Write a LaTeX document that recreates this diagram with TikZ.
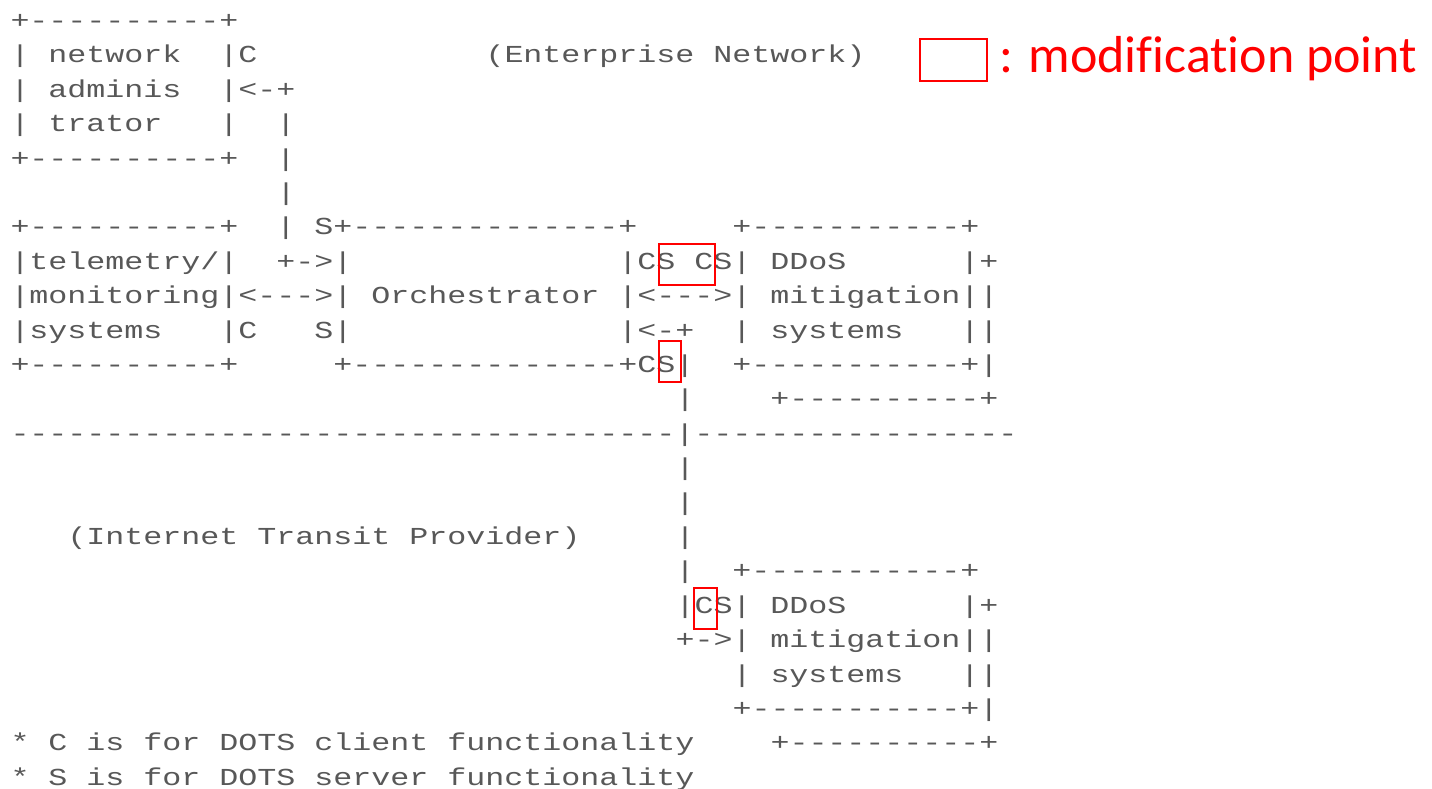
\documentclass[tikz,border=0pt]{standalone}
\usepackage{fontspec}
\usepackage{graphicx}
\newfontfamily\asciifont{Liberation Mono}[Ligatures=TeXOff]
\newfontfamily\legendfont{Carlito}[Ligatures=CommonOff]
\definecolor{txtgray}{RGB}{88,88,88}
\definecolor{modred}{RGB}{255,0,0}
\newcommand\sqz[1]{\scalebox{1}[0.77]{#1}}
\tikzset{
  txt/.style={anchor=base west, inner sep=0pt, outer sep=0pt, text=txtgray,
    font=\asciifont\fontsize{31.66}{34.5}\selectfont},
  redbox/.style={draw=modred, line width=1.8pt, inner sep=0pt, outer sep=0pt, rectangle},
  legendtxt/.style={anchor=base west, inner sep=0pt, outer sep=0pt, text=modred,
    font=\legendfont\fontsize{52}{60}\selectfont}
}
% name, column, row, text
\newcommand\asciirow[4]{\node[txt] (#1) at ({10.5+19*#2},{760.5-34.4*#3}) {\sqz{#4}};}
\begin{document}
\begin{tikzpicture}[x=1pt,y=1pt]
\fill[white] (0,0) rectangle (1432,789);
\useasboundingbox (0,0) rectangle (1432,789);

\asciirow{r0}{0}{0}{+----------+}
\asciirow{r1}{0}{1}{|~network~~|C}
\asciirow{ent}{25}{1}{(Enterprise~Network)}
\asciirow{r2}{0}{2}{|~adminis~~|<-+}
\asciirow{r3}{0}{3}{|~trator~~~|~~|}
\asciirow{r4}{0}{4}{+----------+~~|}
\asciirow{r5}{14}{5}{|}
\asciirow{r6}{0}{6}{+----------+~~|~S+--------------+~~~~~+-----------+}
\asciirow{r7}{0}{7}{|telemetry/|~~+->|~~~~~~~~~~~~~~|CS~CS|~DDoS~~~~~~|+}
\asciirow{r8}{0}{8}{|monitoring|<--->|~Orchestrator~|<--->|~mitigation||}
\asciirow{r9}{0}{9}{|systems~~~|C~~~S|~~~~~~~~~~~~~~|<-+~~|~systems~~~||}
\asciirow{r10}{0}{10}{+----------+~~~~~+--------------+CS|~~+-----------+|}
\asciirow{r11}{35}{11}{|~~~~+----------+}
\asciirow{r12}{0}{12}{-----------------------------------|-----------------}
\asciirow{r13}{35}{13}{|}
\asciirow{r14}{35}{14}{|}
\asciirow{itp}{3}{15}{(Internet~Transit~Provider)}
\asciirow{r15}{35}{15}{|}
\asciirow{r16}{35}{16}{|~~+-----------+}
\asciirow{r17}{35}{17}{|CS|~DDoS~~~~~~|+}
\asciirow{r18}{35}{18}{+->|~mitigation||}
\asciirow{r19}{38}{19}{|~systems~~~||}
\asciirow{r20}{38}{20}{+-----------+|}
\asciirow{note1}{0}{21}{*~C~is~for~DOTS~client~functionality}
\asciirow{r21}{40}{21}{+----------+}
\asciirow{note2}{0}{22}{*~S~is~for~DOTS~server~functionality}

% modification points
\node[redbox, minimum width=56pt, minimum height=41pt] (modA) at (687,524.5) {};
\node[redbox, minimum width=22pt, minimum height=41pt] (modB) at (670,427.5) {};
\node[redbox, minimum width=23pt, minimum height=41pt] (modC) at (705.5,180.5) {};

% legend
\node[redbox, minimum width=67pt, minimum height=42pt] (legbox) at (953.5,729) {};
\node[legendtxt] (legtxt) at (999,716) {: modification point};
\end{tikzpicture}
\end{document}
